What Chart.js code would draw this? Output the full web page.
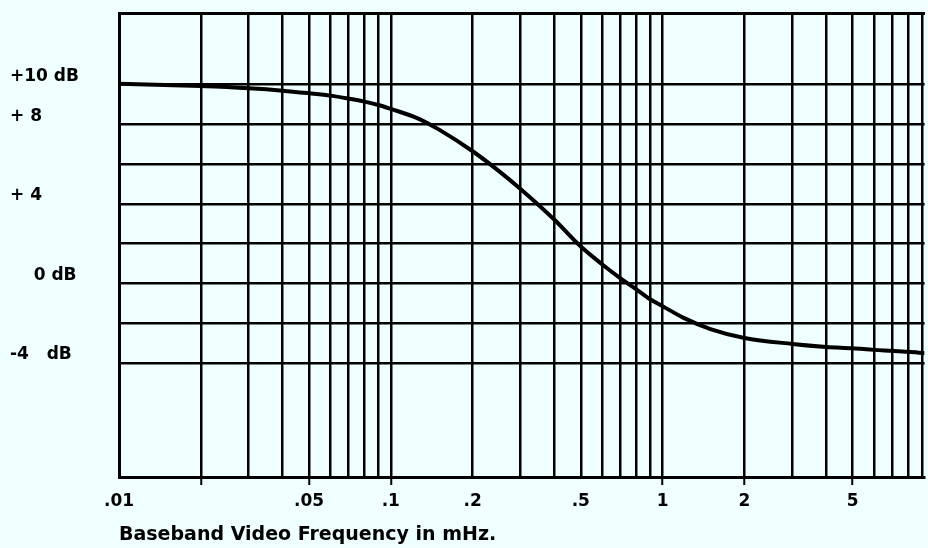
<!DOCTYPE html>
<html>
<head>
<meta charset="utf-8">
<script src="https://cdn.jsdelivr.net/npm/chart.js@4/dist/chart.umd.min.js"></script>
<style>
  html, body { margin: 0; padding: 0; background: #effefe; }
  #wrap { width: 928px; height: 548px; }
</style>
</head>
<body>
<div id="wrap"><canvas id="c" width="928" height="548"></canvas></div>
<script>
// ---- data ----
const freqMHz = [0.01, 0.02, 0.03, 0.04, 0.05, 0.06, 0.07, 0.08, 0.09, 0.1, 0.125, 0.15, 0.2, 0.25, 0.3, 0.4, 0.5, 0.6, 0.7, 0.8, 0.9, 1, 1.2, 1.5, 2, 3, 4, 5, 6, 7, 8, 9.2];
const gainDb  = [10.05, 9.93, 9.82, 9.7, 9.57, 9.45, 9.3, 9.15, 8.98, 8.78, 8.32, 7.75, 6.65, 5.65, 4.75, 3.2, 1.85, 0.95, 0.25, -0.3, -0.8, -1.15, -1.75, -2.3, -2.75, -3.05, -3.2, -3.27, -3.35, -3.4, -3.45, -3.52];

// vertical grid (log paper) lines
const xGridValues = [0.01,0.02,0.03,0.04,0.05,0.06,0.07,0.08,0.09,0.1,0.2,0.3,0.4,0.5,0.6,0.7,0.8,0.9,1,2,3,4,5,6,7,8,9];
const xTickValues = [0.01, 0.05, 0.1, 0.2, 0.5, 1, 2, 5];
const xTickLabels = ['.01', '.05', '.1', '.2', '.5', '1', '2', '5'];
const xTickMarks  = [0.02, 0.05, 0.1, 1, 2, 5];

// horizontal grid lines and labels
const yGridValues = [-4, -2, 0, 2, 4, 6, 8, 10];
const yTickValues = [10, 8, 4, 0, -4];
const yTickLabels = ['+10 dB', '+ 8', '+ 4', '    0 dB', '-4   dB'];

const X_MIN = 0.01, X_MAX = 9.2, Y_MIN = -9.75, Y_MAX = 13.6;
const near = (a, b) => Math.abs(a - b) < 1e-9 * Math.max(1, Math.abs(b));
const idxOf = (arr, v) => arr.findIndex(a => near(a, v));

new Chart(document.getElementById('c'), {
  type: 'line',
  data: {
    datasets: [{
      data: freqMHz.map((f, i) => ({ x: f, y: gainDb[i] })),
      borderColor: '#000',
      borderWidth: 4,
      pointRadius: 0,
      cubicInterpolationMode: 'monotone',
      fill: false
    }]
  },
  options: {
    responsive: false,
    animation: false,
    layout: { padding: { left: 10, top: 10, right: 0, bottom: 0 } },
    plugins: { legend: { display: false }, tooltip: { enabled: false } },
    scales: {
      x: {
        type: 'logarithmic',
        position: 'bottom',
        min: X_MIN, max: X_MAX,
        afterBuildTicks: s => { s.ticks = xGridValues.map(v => ({ value: v })); },
        afterFit: s => { s.height = 71; },
        border: { display: true, color: '#000', width: 3 },
        grid: {
          color: '#000', lineWidth: 2.5, drawTicks: true, tickLength: 8,
          tickColor: ctx => (ctx.tick && idxOf(xTickMarks, ctx.tick.value) >= 0) ? '#000' : 'rgba(0,0,0,0)',
          tickWidth: 2
        },
        ticks: {
          autoSkip: false, maxRotation: 0, padding: 6, color: '#000',
          font: { family: 'DejaVu Sans', size: 17, weight: 'bold' },
          callback: v => { const i = idxOf(xTickValues, v); return i >= 0 ? xTickLabels[i] : ''; }
        },
        title: {
          display: true, align: 'start',
          text: 'Baseband Video Frequency in mHz.',
          color: '#000',
          font: { family: 'DejaVu Sans', size: 19, weight: 'bold' },
          padding: { top: 0, bottom: 2 }
        }
      },
      xTop: {
        type: 'linear', position: 'top', min: 0, max: 1,
        afterFit: s => { s.height = 0; },
        border: { display: true, color: '#000', width: 3 },
        grid: { display: false, drawTicks: false },
        ticks: { display: false }
      },
      y: {
        type: 'linear', position: 'left',
        min: Y_MIN, max: Y_MAX,
        afterBuildTicks: s => { s.ticks = yGridValues.map(v => ({ value: v })); },
        afterFit: s => { s.width = 109; },
        border: { display: true, color: '#000', width: 3 },
        grid: { color: '#000', lineWidth: 2.5, drawTicks: false },
        ticks: {
          crossAlign: 'far', labelOffset: -8, color: '#000',
          font: { family: 'DejaVu Sans', size: 17, weight: 'bold' },
          callback: v => { const i = idxOf(yTickValues, v); return i >= 0 ? yTickLabels[i] : ''; }
        }
      }
    }
  }
});
</script>
</body>
</html>
